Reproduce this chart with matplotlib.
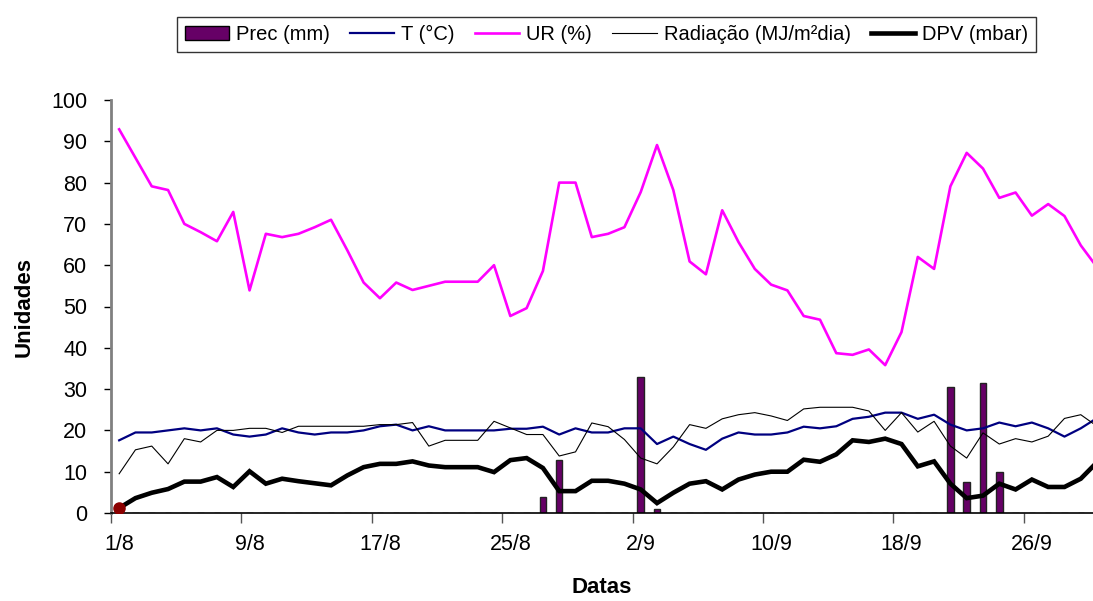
import matplotlib
matplotlib.use("Agg")
import matplotlib.pyplot as plt
from matplotlib.lines import Line2D
from matplotlib.patches import Patch

plt.rcParams['font.family'] = ['Liberation Sans', 'DejaVu Sans']

tick_labels = ['1/8', '9/8', '17/8', '25/8', '2/9', '10/9', '18/9', '26/9']

prec = [0]*26 + [3.9, 12.9, 0, 0, 0, 0, 33.0, 1.0] + [0]*17 + [30.6, 7.6, 31.5, 10.0] + [0]*6

temp = [17.6, 19.5, 19.5, 20.0, 20.5, 20.0, 20.5, 19.0, 18.5, 19.0,
        20.5, 19.5, 19.0, 19.5, 19.5, 20.0, 21.0, 21.4, 20.0, 21.0,
        20.0, 20.0, 20.0, 20.0, 20.4, 20.4, 20.9, 19.0, 20.5, 19.5,
        19.5, 20.5, 20.5, 16.7, 18.5, 16.7, 15.3, 18.0, 19.5, 19.0,
        19.0, 19.5, 20.9, 20.5, 21.0, 22.8, 23.3, 24.3, 24.3, 22.8,
        23.8, 21.4, 20.0, 20.5, 21.9, 21.0, 21.9, 20.5, 18.5, 20.5,
        23.0]

ur = [92.9, 86.0, 79.1, 78.2, 70.0, 68.0, 65.8, 72.9, 53.9, 67.6,
      66.8, 67.6, 69.2, 71.0, 63.6, 55.8, 52.0, 55.8, 54.0, 55.0,
      56.0, 56.0, 56.0, 60.0, 47.7, 49.6, 58.6, 80.0, 80.0, 66.8,
      67.6, 69.2, 77.7, 89.1, 78.2, 60.9, 57.8, 73.3, 65.6, 59.1,
      55.3, 53.9, 47.7, 46.8, 38.7, 38.3, 39.6, 35.8, 43.8, 62.0,
      59.1, 79.1, 87.2, 83.4, 76.3, 77.6, 72.0, 74.8, 71.9, 64.8,
      59.5]

rad = [9.5, 15.3, 16.2, 11.9, 18.0, 17.2, 20.0, 20.0, 20.5, 20.5,
       19.5, 21.0, 21.0, 21.0, 21.0, 21.0, 21.4, 21.4, 21.9, 16.2,
       17.6, 17.6, 17.6, 22.2, 20.6, 19.0, 19.0, 13.8, 14.8, 21.8,
       20.9, 17.8, 13.3, 11.9, 16.0, 21.4, 20.5, 22.8, 23.8, 24.3,
       23.5, 22.4, 25.2, 25.6, 25.6, 25.6, 24.7, 20.0, 24.3, 19.6,
       22.2, 16.2, 13.3, 19.4, 16.7, 18.0, 17.2, 18.6, 22.9, 23.8,
       21.0]

dpv = [1.2, 3.6, 4.9, 5.8, 7.6, 7.6, 8.7, 6.3, 10.1, 7.1,
       8.3, 7.7, 7.2, 6.7, 9.1, 11.1, 11.9, 11.9, 12.5, 11.5,
       11.1, 11.1, 11.1, 9.9, 12.8, 13.3, 10.9, 5.3, 5.3, 7.8,
       7.8, 7.1, 5.7, 2.4, 4.9, 7.1, 7.7, 5.7, 8.1, 9.3,
       10.0, 10.0, 12.9, 12.4, 14.2, 17.6, 17.2, 18.0, 16.7, 11.3,
       12.5, 7.1, 3.6, 4.2, 7.1, 5.7, 8.1, 6.3, 6.3, 8.3,
       12.3]

x = list(range(len(ur)))

fig = plt.figure(figsize=(10.93, 6.01), dpi=100)
ax = fig.add_axes([111/1093, 1-513/601, (1093-111)/1093, (513-100)/601])

ax.bar(x, prec, width=0.4, color='#660066', edgecolor='#222222', linewidth=1.0, zorder=2)
ax.plot(x, temp, color='#000080', lw=1.6, zorder=3)
ax.plot(x, ur, color='#FF00FF', lw=1.9, zorder=3)
ax.plot(x, rad, color='black', lw=0.8, zorder=3)
ax.plot(x, dpv, color='black', lw=3.3, zorder=4, solid_joinstyle='miter')
ax.plot([x[0]], [dpv[0]], 'o', color='#8B0000', ms=8, zorder=5)

ax.set_xlim(-0.5, 59.75)
ax.set_ylim(0, 100)
ax.set_yticks(range(0, 101, 10))
ax.set_xticks(range(0, 57, 8))
ax.set_xticklabels(tick_labels)
ax.set_xticks([i - 0.5 for i in range(0, 57, 8)], minor=True)
ax.tick_params(axis='x', which='major', length=0, pad=15, labelsize=15.5)
ax.tick_params(axis='x', which='minor', length=7, width=1, color='#555555')
ax.tick_params(axis='y', length=5, width=1, labelsize=15.5, pad=12)

for s in ['top', 'right']:
    ax.spines[s].set_visible(False)
ax.spines['left'].set_color('#808080')
ax.spines['left'].set_linewidth(2)
ax.spines['bottom'].set_color('black')
ax.spines['bottom'].set_linewidth(1.2)

ax.set_xlabel('Datas', fontsize=16, fontweight='bold', labelpad=16)
ax.set_ylabel('Unidades', fontsize=16, fontweight='bold', labelpad=12)

handles = [
    Patch(facecolor='#660066', edgecolor='black', label='Prec (mm)'),
    Line2D([], [], color='#000080', lw=1.6, label='T (°C)'),
    Line2D([], [], color='#FF00FF', lw=1.9, label='UR (%)'),
    Line2D([], [], color='black', lw=0.8, label='Radiação (MJ/m²dia)'),
    Line2D([], [], color='black', lw=3.3, label='DPV (mbar)'),
]
leg = fig.legend(handles=handles, loc='center', bbox_to_anchor=(606.5/1093, 1-34.5/601),
                 ncol=5, fontsize=14.5, frameon=True, fancybox=False, edgecolor='black',
                 handlelength=2.2, handletextpad=0.35, columnspacing=1.0, borderpad=0.4)
leg.get_frame().set_linewidth(1.0)

fig.savefig('out.png', dpi=100)
